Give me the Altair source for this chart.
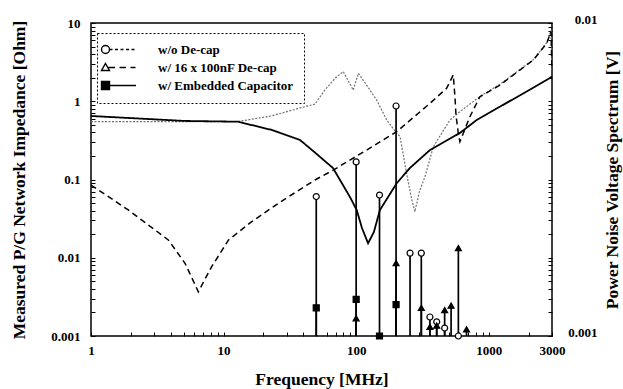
import altair as alt
import pandas as pd
import numpy as np

SERIES = ["w/o De-cap", "w/ 16 x 100nF De-cap", "w/ Embedded Capacitor"]

# ---- impedance curves (left axis) ----
f_wo = [1, 5, 12.8, 23, 37.7, 48.9, 58.2, 70, 80, 95, 104, 127, 142.6, 170, 202, 214, 240, 260, 277, 300, 330, 382, 510, 606, 857, 1214, 2170, 2735, 2950, 3000]
z_wo = [0.55, 0.55, 0.55, 0.65, 0.82, 0.92, 1.4, 2.0, 2.39, 1.39, 2.28, 1.39, 1.04, 0.576, 0.39, 0.357, 0.12, 0.06, 0.0388, 0.07, 0.108, 0.263, 0.576, 0.736, 1.15, 1.65, 3.4, 5.6, 8.0, 2.5]

f_16 = [1, 1.91, 3.83, 5.12, 6.45, 8.13, 10.9, 16.3, 25.9, 48.9, 67.2, 120, 202, 360, 481, 540, 556, 566, 589, 606, 721, 857, 1214, 2170, 2735, 2950, 3000]
z_16 = [0.085, 0.0408, 0.0169, 0.0085, 0.00368, 0.00769, 0.0169, 0.0289, 0.0497, 0.0986, 0.132, 0.238, 0.408, 0.94, 1.46, 2.17, 1.14, 0.67, 0.39, 0.304, 0.635, 1.14, 1.61, 3.37, 5.5, 7.74, 2.5]

f_emb = [1, 5.1, 12.8, 23.2, 37.7, 48.9, 66.9, 89.8, 101, 110.6, 123, 136, 151, 202, 254, 360, 606, 811, 1214, 2153, 3000]
z_emb = [0.648, 0.56, 0.548, 0.429, 0.32, 0.221, 0.140, 0.0597, 0.0407, 0.024, 0.0153, 0.0213, 0.0407, 0.0894, 0.14, 0.238, 0.393, 0.576, 0.852, 1.477, 2.06]

# ---- noise voltage spectrum stems (right axis) ----
sf_wo = [50, 100, 150, 200, 255, 310, 360, 405, 465, 590]
sv_wo = [0.00279, 0.0036, 0.00282, 0.00543, 0.00184, 0.00184, 0.00115, 0.00111, 0.00106, 0.001]
sf_16 = [100, 200, 310, 360, 405, 465, 520, 590, 680]
sv_16 = [0.00114, 0.00171, 0.00123, 0.00107, 0.00108, 0.00121, 0.00125, 0.00191, 0.00105]
sf_emb = [50, 100, 150, 200]
sv_emb = [0.00123, 0.00131, 0.001, 0.00126]

FONT = "Liberation Serif"

curves = pd.concat([
    pd.DataFrame({"series": SERIES[0], "f": f_wo, "z": z_wo}),
    pd.DataFrame({"series": SERIES[1], "f": f_16, "z": z_16}),
    pd.DataFrame({"series": SERIES[2], "f": f_emb, "z": z_emb}),
], ignore_index=True)

stems = pd.concat([
    pd.DataFrame({"series": SERIES[0], "f": sf_wo, "v": sv_wo}),
    pd.DataFrame({"series": SERIES[1], "f": sf_16, "v": sv_16}),
    pd.DataFrame({"series": SERIES[2], "f": sf_emb, "v": sv_emb}),
], ignore_index=True)
stems["base"] = 0.001

# tick values
x_ticks = [float(f"{m}e{k}") for k in range(0, 4) for m in range(1, 10) if float(f"{m}e{k}") <= 3000]
y_ticks = [float(f"{m}e{k}") for k in range(-3, 1) for m in range(1, 10)] + [10.0]
yr_ticks = [float(10 ** (-3 + (np.log10(t) + 3) / 4)) for t in y_ticks]

xscale = alt.Scale(type="log", domain=[1, 3000])
yscale = alt.Scale(type="log", domain=[0.001, 10])
yrscale = alt.Scale(type="log", domain=[0.001, 0.01])

axis_common = dict(labelFont=FONT, labelFontSize=13, labelFontWeight="bold", labelColor="black",
                   titleFont=FONT, titleFontSize=17.5, titleFontWeight="bold", titleColor="black",
                   domain=False, tickColor="black", tickWidth=1, tickSize=4, offset=-4, grid=False)

x_axis = alt.Axis(values=x_ticks, title="Frequency [MHz]",
                  labelExpr="indexof([1,10,100,1000,3000], datum.value) >= 0 ? format(datum.value, '~g') : ''",
                  labelPadding=8, titlePadding=13, labelFlush=False, labelOverlap=False, **axis_common)
y_axis = alt.Axis(values=y_ticks, title="Measured P/G Network Impedance [Ohm]", orient="left",
                  labelExpr="indexof([0.001,0.01,0.1,1,10], datum.value) >= 0 ? format(datum.value, '~g') : ''",
                  labelPadding=11, titlePadding=22, labelFlush=False, labelOverlap=False, **axis_common)
yr_axis = alt.Axis(values=yr_ticks, title="Power Noise Voltage Spectrum [V]", orient="right",
                   labelExpr="datum.value == 0.001 ? '0.001' : (datum.value == 0.01 ? '0.01' : '')",
                   labelAlign="right", labelBaseline="alphabetic", labelPadding=45, titlePadding=24,
                   titleAngle=270, labelFlush=False, labelOverlap=False, **axis_common)

lines = alt.Chart(curves).mark_line(clip=True).encode(
    x=alt.X("f:Q", scale=xscale, axis=x_axis),
    y=alt.Y("z:Q", scale=yscale, axis=y_axis),
    detail="series:N",
    color=alt.Color("series:N", scale=alt.Scale(domain=SERIES, range=["#707070", "black", "black"]), legend=None),
    strokeDash=alt.StrokeDash("series:N", scale=alt.Scale(domain=SERIES, range=[[2, 1.5], [6, 4], [1, 0]]), legend=None),
    strokeWidth=alt.StrokeWidth("series:N", scale=alt.Scale(domain=SERIES, range=[1.2, 1.8, 1.8]), legend=None),
)

rules = alt.Chart(stems).mark_rule(color="black", strokeWidth=1.7).encode(
    x=alt.X("f:Q", scale=xscale),
    y=alt.Y("v:Q", scale=yrscale, axis=yr_axis),
    y2="base:Q",
)
pts = alt.Chart(stems).mark_point(opacity=1, strokeWidth=1.2).encode(
    x=alt.X("f:Q", scale=xscale),
    y=alt.Y("v:Q", scale=yrscale),
    shape=alt.Shape("series:N", scale=alt.Scale(domain=SERIES, range=["circle", "triangle-up", "square"]), legend=None),
    fill=alt.Fill("series:N", scale=alt.Scale(domain=SERIES, range=["white", "black", "black"]), legend=None),
    stroke=alt.value("black"),
    size=alt.value(36),
)
stem_layer = alt.layer(rules, pts)

# legend symbols: marker + line sample (marker shifted left of symbol centre)
P_CIRC = ("M-2.4,0A0.8,0.8,0,1,1,-0.8,0A0.8,0.8,0,1,1,-2.4,0Z"
          "M-0.8,0L-0.2,0M0.3,0L0.9,0M1.4,0L2,0M2.5,0L3.1,0M3.6,0L4.2,0")
P_TRI = "M-1.6,-0.8L-0.8,0.6L-2.4,0.6ZM-1,0L0.3,0M1.2,0L2.5,0M3.4,0L4.4,0"
P_SQ = "M-2.4,-0.8L-0.8,-0.8L-0.8,0.8L-2.4,0.8ZM-0.8,0L4.5,0"

leg_opts = dict(title=None, orient="none", legendX=6, legendY=10, padding=10,
                fillColor="white", strokeColor="black",
                symbolSize=100, symbolStrokeWidth=1.4, symbolStrokeColor="black",
                labelOffset=38, labelFont=FONT, labelFontSize=13, labelFontWeight="bold",
                labelColor="black", rowPadding=3, labelLimit=300)

leg = alt.Chart(pd.DataFrame({"series": SERIES})).transform_filter("false").mark_point(opacity=1, strokeWidth=1.4).encode(
    shape=alt.Shape("series:N", scale=alt.Scale(domain=SERIES, range=[P_CIRC, P_TRI, P_SQ]), legend=alt.Legend(**leg_opts)),
    fill=alt.Fill("series:N", scale=alt.Scale(domain=SERIES, range=["white", "white", "black"]), legend=alt.Legend(**leg_opts)),
    stroke=alt.Stroke("series:N", scale=alt.Scale(domain=SERIES, range=["black", "black", "black"]), legend=alt.Legend(**leg_opts)),
)

chart = alt.layer(lines, stem_layer, leg).resolve_scale(
    y="independent", shape="independent", fill="independent", stroke="independent"
).properties(
    width=461, height=313,
    autosize=alt.AutoSizeParams(type="none"),
    padding={"left": 91, "top": 23, "right": 71, "bottom": 53},
    background="white",
).configure_view(stroke="black", strokeWidth=1.5).configure_legend(strokeDash=[2, 2], strokeWidth=1)

chart.save("out.html", embed_options={"renderer": "svg", "actions": False})
